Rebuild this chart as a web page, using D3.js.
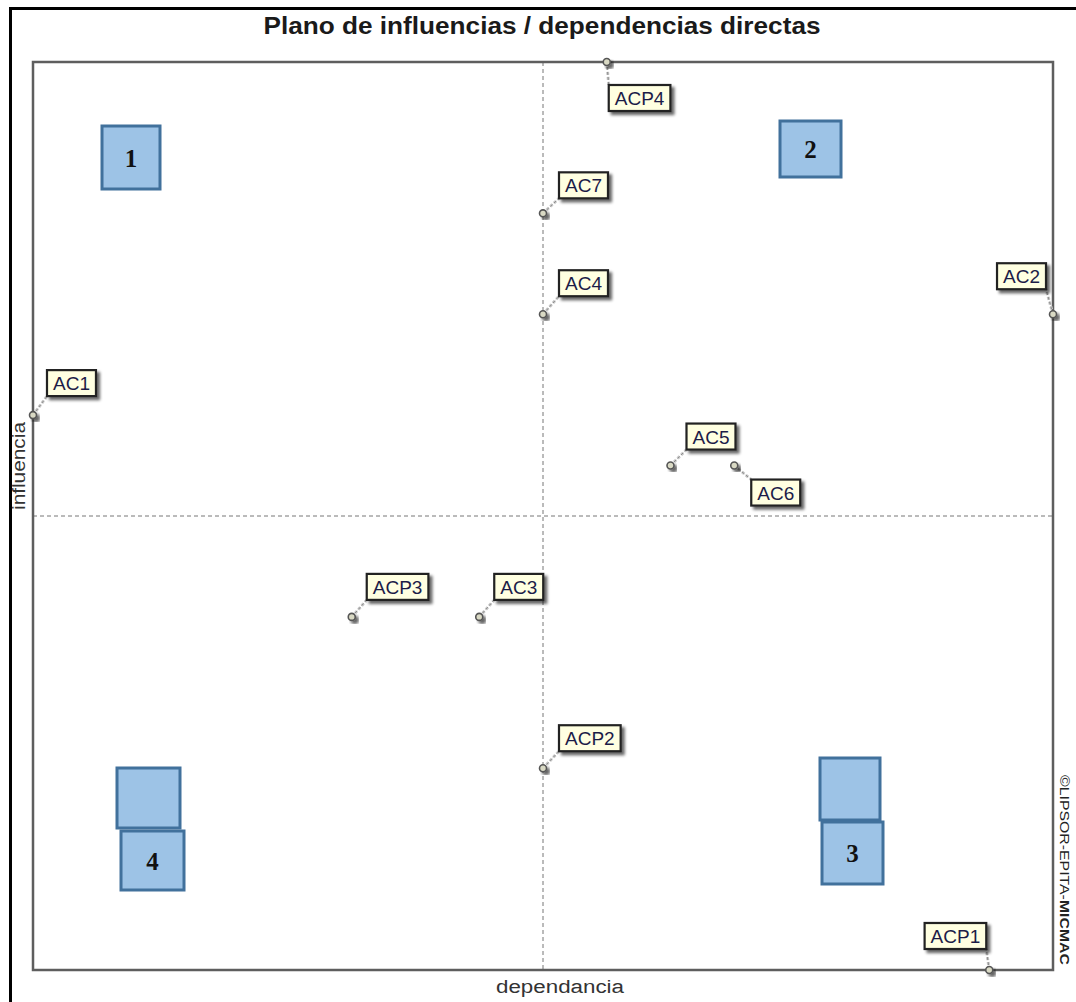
<!DOCTYPE html>
<html>
<head>
<meta charset="utf-8">
<script src="https://cdn.jsdelivr.net/npm/d3@7"></script>
<style>
  html, body { margin: 0; padding: 0; background: #fff; }
  svg { display: block; }
</style>
</head>
<body>
<svg id="chart" width="1076" height="1002"></svg>
<script>
// ---- data ----
const categories   = ["AC1", "AC2", "AC3", "AC4", "AC5", "AC6", "AC7", "ACP1", "ACP2", "ACP3", "ACP4"];
const dependencia  = [2, 18, 9, 10, 12, 13, 10, 17, 10, 7, 11];
const influencia   = [12, 14, 8, 14, 11, 11, 16, 1, 5, 8, 19];
const xDomain = [2, 18];
const yDomain = [1, 19];
const titleText = "Plano de influencias / dependencias directas";
const xTitle = "dependancia";
const yTitle = "influencia";
const quadrantNumbers = ["1", "2", "3", "4"];

// ---- layout (positions of label boxes relative to their point) ----
const labelLayout = {
  AC1:  {anchor: "start", dx: 14, dy: -45},
  AC2:  {anchor: "end",   dx: -7, dy: -51},
  AC3:  {anchor: "start", dx: 15, dy: -43},
  AC4:  {anchor: "start", dx: 16, dy: -44},
  AC5:  {anchor: "start", dx: 16, dy: -42},
  AC6:  {anchor: "start", dx: 17, dy: 14},
  AC7:  {anchor: "start", dx: 16, dy: -41},
  ACP1: {anchor: "end",   dx: -3, dy: -47},
  ACP2: {anchor: "start", dx: 16, dy: -43},
  ACP3: {anchor: "start", dx: 15, dy: -43},
  ACP4: {anchor: "start", dx: 2,  dy: 23}
};
// decorative quadrant annotation boxes (pixel layout)
const quadBoxes = [
  {x: 102, y: 126, w: 58, h: 63, n: 0},
  {x: 780, y: 121, w: 61, h: 56, n: 1},
  {x: 820, y: 758, w: 60, h: 62, n: -1},
  {x: 822, y: 822, w: 61, h: 62, n: 2},
  {x: 117, y: 768, w: 63, h: 60, n: -1},
  {x: 121, y: 831, w: 63, h: 59, n: 3}
];

const M = {left: 33, right: 1053, top: 62, bottom: 970};

const svg = d3.select("#chart");
const defs = svg.append("defs");
const f = defs.append("filter").attr("id", "shadow").attr("x", "-30%").attr("y", "-30%").attr("width", "170%").attr("height", "170%");
f.append("feGaussianBlur").attr("in", "SourceAlpha").attr("stdDeviation", 1.5).attr("result", "b");
f.append("feOffset").attr("in", "b").attr("dx", 3).attr("dy", 3).attr("result", "o");
f.append("feComponentTransfer").attr("in", "o").attr("result", "o2")
  .append("feFuncA").attr("type", "linear").attr("slope", 0.6);
const fm = f.append("feMerge");
fm.append("feMergeNode").attr("in", "o2");
fm.append("feMergeNode").attr("in", "SourceGraphic");

svg.append("rect").attr("width", 1076).attr("height", 1002).attr("fill", "#fff");

// outer frame
svg.append("rect").attr("x", 10.5).attr("y", 8.5).attr("width", 1200).attr("height", 1200)
  .attr("fill", "none").attr("stroke", "#000").attr("stroke-width", 3);

const x = d3.scaleLinear().domain(xDomain).range([M.left, M.right]);
const y = d3.scaleLinear().domain(yDomain).range([M.bottom, M.top]);

// crosshair at domain middle
const xMid = d3.mean(xDomain), yMid = d3.mean(yDomain);
svg.append("line").attr("x1", x(xMid)).attr("x2", x(xMid)).attr("y1", M.top).attr("y2", M.bottom)
  .attr("stroke", "#777").attr("stroke-width", 1).attr("stroke-dasharray", "4,3");
svg.append("line").attr("x1", M.left).attr("x2", M.right).attr("y1", y(yMid)).attr("y2", y(yMid))
  .attr("stroke", "#777").attr("stroke-width", 1).attr("stroke-dasharray", "4,3");

// plot frame
svg.append("rect").attr("x", M.left).attr("y", M.top)
  .attr("width", M.right - M.left).attr("height", M.bottom - M.top)
  .attr("fill", "none").attr("stroke", "#5e5e5e").attr("stroke-width", 2.5);

// title
svg.append("text").attr("x", 542).attr("y", 34).attr("text-anchor", "middle")
  .attr("font-family", "Liberation Sans, Arial, sans-serif").attr("font-weight", "bold")
  .attr("font-size", 24).attr("fill", "#1a1a1a")
  .attr("textLength", 557).attr("lengthAdjust", "spacingAndGlyphs")
  .text(titleText);

// axis titles
svg.append("text").attr("x", 560).attr("y", 993).attr("text-anchor", "middle")
  .attr("font-family", "Liberation Sans, Arial, sans-serif").attr("font-size", 18)
  .attr("fill", "#333").attr("textLength", 128).attr("lengthAdjust", "spacingAndGlyphs")
  .text(xTitle);
svg.append("text").attr("transform", "translate(25,466) rotate(-90)").attr("text-anchor", "middle")
  .attr("font-family", "Liberation Sans, Arial, sans-serif").attr("font-size", 18)
  .attr("fill", "#333").attr("textLength", 88).attr("lengthAdjust", "spacingAndGlyphs")
  .text(yTitle);

// copyright
const cp = svg.append("text").attr("transform", "translate(1060,775) rotate(90)")
  .attr("font-family", "Liberation Sans, Arial, sans-serif").attr("font-size", 13)
  .attr("fill", "#222").attr("textLength", 190).attr("lengthAdjust", "spacingAndGlyphs");
cp.append("tspan").text("©LIPSOR-EPITA-");
cp.append("tspan").attr("font-weight", "bold").text("MICMAC");

// quadrant boxes
const qb = svg.append("g");
quadBoxes.forEach(b => {
  qb.append("rect").attr("x", b.x).attr("y", b.y).attr("width", b.w).attr("height", b.h)
    .attr("fill", "#9dc3e6").attr("stroke", "#41719c").attr("stroke-width", 3);
  if (b.n >= 0) {
    qb.append("text").attr("x", b.x + b.w / 2).attr("y", b.y + b.h / 2 + 9)
      .attr("text-anchor", "middle").attr("font-family", "Liberation Serif, Times New Roman, serif")
      .attr("font-weight", "bold").attr("font-size", 25).attr("fill", "#111")
      .text(quadrantNumbers[b.n]);
  }
});

// points and labels
const data = categories.map((c, i) => ({name: c, dx: dependencia[i], iy: influencia[i]}));
const g = svg.append("g");
const boxH = 26, padX = 6;

data.forEach(d => {
  const px = x(d.dx), py = y(d.iy);
  const L = labelLayout[d.name];
  const t = g.append("text").attr("font-family", "Liberation Sans, Arial, sans-serif")
    .attr("font-size", 19).attr("fill", "#1c1c48").text(d.name);
  const tw = t.node().getComputedTextLength();
  const bw = tw + 2 * padX;
  const bx = L.anchor === "start" ? px + L.dx : px + L.dx - bw;
  const by = py + L.dy;
  // leader: nearest point on box
  const cx = Math.max(bx, Math.min(px, bx + bw));
  const cy = Math.max(by, Math.min(py, by + boxH));
  g.insert("line", "text").attr("x1", px).attr("y1", py).attr("x2", cx).attr("y2", cy)
    .attr("stroke", "#c8c8c8").attr("stroke-width", 3).attr("stroke-dasharray", "3,2");
  g.insert("line", "text").attr("x1", px).attr("y1", py).attr("x2", cx).attr("y2", cy)
    .attr("stroke", "#8c8c8c").attr("stroke-width", 1).attr("stroke-dasharray", "3,2");
  g.insert("rect", "text").attr("x", bx).attr("y", by).attr("width", bw).attr("height", boxH)
    .attr("fill", "#ffffe1").attr("stroke", "#222").attr("stroke-width", 2.2)
    .attr("filter", "url(#shadow)");
  t.attr("x", bx + padX).attr("y", by + boxH / 2 + 7);
  g.append("circle").attr("cx", px).attr("cy", py).attr("r", 3.5)
    .attr("fill", "#d9d9c4").attr("stroke", "#555").attr("stroke-width", 1.6)
    .attr("filter", "url(#shadow)");
});
</script>
</body>
</html>
